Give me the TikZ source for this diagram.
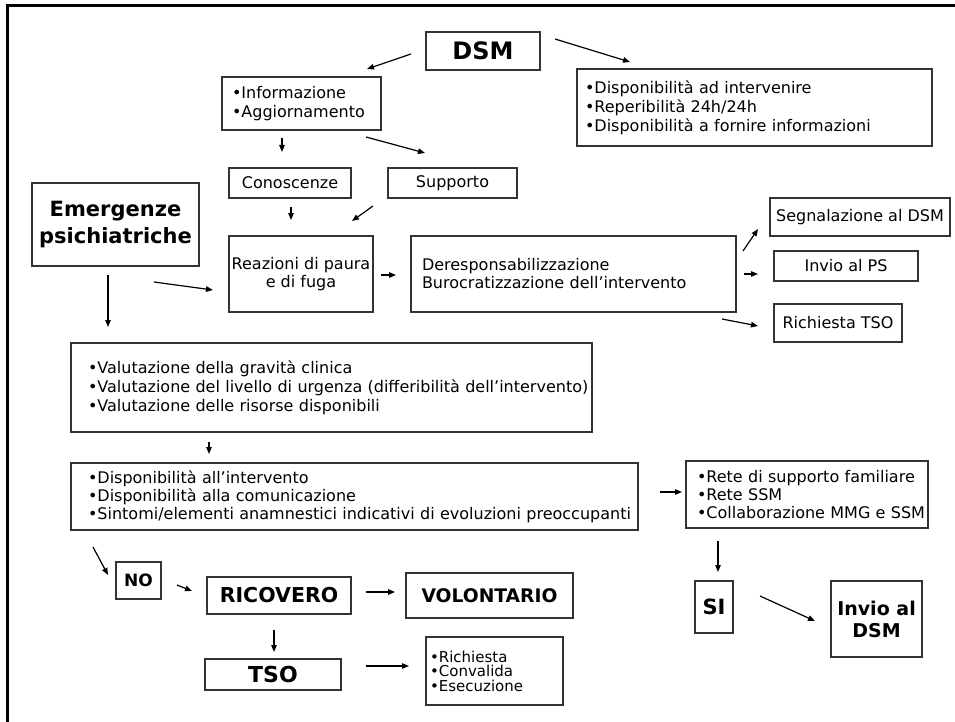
\documentclass[tikz,border=0pt]{standalone}
\usepackage{fontspec}
\setmainfont{DejaVu Sans}
\usetikzlibrary{arrows.meta}
\begin{document}
\begin{tikzpicture}[x=1pt,y=-1pt,
  box/.style={draw=black!80,line width=1.1pt,inner sep=0pt,align=center,font=\fontsize{16}{19}\selectfont},
  lbox/.style={box,align=left},
  arr/.style={line width=1.2pt,-{Triangle[length=7pt,width=5.5pt]}}]
\useasboundingbox (0,0) rectangle (955,722);
\fill[white] (0,0) rectangle (955,722);
\draw[line width=3pt] (7.5,722) -- (7.5,6) -- (955,6);

% nodes
\node[box,minimum width=114pt,minimum height=38pt,font=\bfseries\fontsize{24}{28}\selectfont] (dsm) at (483,51) {DSM};
\node[lbox,text width=139pt,inner xsep=10pt,minimum height=53pt] (info) at (301.5,103.5) {•Informazione\\•Aggiornamento};
\node[lbox,text width=339pt,inner xsep=8pt,minimum height=77pt] (disp) at (754.5,107.5) {•Disponibilità ad intervenire\\•Reperibilità 24h/24h\\•Disponibilità a fornire informazioni};
\node[box,minimum width=122pt,minimum height=30pt] (con) at (290,183) {Conoscenze};
\node[box,minimum width=129pt,minimum height=30pt] (sup) at (452.5,183) {Supporto};
\node[box,minimum width=167pt,minimum height=83pt,font=\bfseries\fontsize{21}{27}\selectfont] (emer) at (115.5,224.5) {Emergenze\\psichiatriche};
\node[box,minimum width=144pt,minimum height=76pt,font=\fontsize{16}{18}\selectfont] (reaz) at (301,274) {Reazioni di paura\\e di fuga};
\node[lbox,text width=303pt,inner xsep=11pt,minimum height=76pt,font=\fontsize{16}{18}\selectfont] (der) at (573.5,274) {Deresponsabilizzazione\\Burocratizzazione dell’intervento};
\node[box,minimum width=180pt,minimum height=38pt] (seg) at (860,217) {Segnalazione al DSM};
\node[box,minimum width=144pt,minimum height=30pt] (ps) at (846,266) {Invio al PS};
\node[box,minimum width=128pt,minimum height=38pt] (rtso) at (838,323) {Richiesta TSO};
\node[lbox,text width=487pt,inner xsep=17pt,minimum height=89pt] (val) at (331.5,387.5) {•Valutazione della gravità clinica\\\mbox{•Valutazione del livello di urgenza (differibilità dell’intervento)}\\•Valutazione delle risorse disponibili};
\node[lbox,text width=533pt,inner xsep=17pt,minimum height=67pt,font=\fontsize{16}{18}\selectfont] (dispon) at (354.5,496.5) {•Disponibilità all’intervento\\•Disponibilità alla comunicazione\\\mbox{•Sintomi/elementi anamnestici indicativi di evoluzioni preoccupanti}};
\node[lbox,text width=220pt,inner xsep=11pt,minimum height=67pt,font=\fontsize{16}{18}\selectfont] (rete) at (807,494.5) {\mbox{•Rete di supporto familiare}\\•Rete SSM\\\mbox{•Collaborazione MMG e SSM}};
\node[box,minimum width=45pt,minimum height=37pt,font=\bfseries\fontsize{17}{20}\selectfont] (no) at (138.5,580.5) {NO};
\node[box,minimum width=144pt,minimum height=37pt,font=\bfseries\fontsize{20.5}{24}\selectfont] (ric) at (279,595.5) {RICOVERO};
\node[box,minimum width=167pt,minimum height=45pt,font=\bfseries\fontsize{18.7}{22}\selectfont] (vol) at (489.5,595.5) {VOLONTARIO};
\node[box,minimum width=136pt,minimum height=31pt,font=\bfseries\fontsize{22}{24}\selectfont] (tso) at (273,674.5) {TSO};
\node[lbox,text width=129pt,inner xsep=4pt,minimum height=68pt,font=\fontsize{15}{14.5}\selectfont] (rich) at (494.5,671) {•Richiesta\\•Convalida\\•Esecuzione};
\node[box,minimum width=38pt,minimum height=52pt,font=\bfseries\fontsize{21}{24}\selectfont] (si) at (714,607) {SI};
\node[box,minimum width=91pt,minimum height=76pt,font=\bfseries\fontsize{19}{22}\selectfont] (idsm) at (876.5,619) {Invio al\\DSM};

% connector end points
\coordinate (dsm-o1) at (411,54);   \coordinate (info-i) at (367,69);
\coordinate (dsm-o2) at (555,39);   \coordinate (disp-i) at (630,62);
\coordinate (info-o1) at (282,138); \coordinate (con-i) at (282,152);
\coordinate (info-o2) at (366,137); \coordinate (sup-i) at (425,153);
\coordinate (con-o) at (291,207);   \coordinate (reaz-i1) at (291,220);
\coordinate (sup-o) at (373,206);   \coordinate (reaz-i2) at (352,221);
\coordinate (emer-o1) at (154,282); \coordinate (reaz-i3) at (213,290);
\coordinate (emer-o2) at (108,275); \coordinate (val-i) at (108,327);
\coordinate (reaz-o) at (381,275);  \coordinate (der-i) at (396,275);
\coordinate (der-o1) at (743,251);  \coordinate (seg-i) at (758,229);
\coordinate (der-o2) at (744,274);  \coordinate (ps-i) at (758,274);
\coordinate (der-o3) at (722,319);  \coordinate (rtso-i) at (758,326);
\coordinate (val-o) at (209,442);   \coordinate (dispon-i) at (209,454);
\coordinate (dispon-o1) at (660,492); \coordinate (rete-i) at (682,492);
\coordinate (dispon-o2) at (93,547);  \coordinate (no-i) at (108,575);
\coordinate (no-o) at (177,585);    \coordinate (ric-i) at (192,591);
\coordinate (ric-o1) at (366,592);  \coordinate (vol-i) at (395,592);
\coordinate (ric-o2) at (274,630);  \coordinate (tso-i) at (274,652);
\coordinate (tso-o) at (366,666);   \coordinate (rich-i) at (409,666);
\coordinate (rete-o) at (718,541);  \coordinate (si-i) at (718,572);
\coordinate (si-o) at (760,596);    \coordinate (idsm-i) at (815,621);

% connectors
\draw[arr] (dsm-o1) -- (info-i);
\draw[arr] (dsm-o2) -- (disp-i);
\draw[arr] (info-o1) -- (con-i);
\draw[arr] (info-o2) -- (sup-i);
\draw[arr] (con-o) -- (reaz-i1);
\draw[arr] (sup-o) -- (reaz-i2);
\draw[arr] (emer-o1) -- (reaz-i3);
\draw[arr] (emer-o2) -- (val-i);
\draw[arr] (reaz-o) -- (der-i);
\draw[arr] (der-o1) -- (seg-i);
\draw[arr] (der-o2) -- (ps-i);
\draw[arr] (der-o3) -- (rtso-i);
\draw[arr] (val-o) -- (dispon-i);
\draw[arr] (dispon-o1) -- (rete-i);
\draw[arr] (dispon-o2) -- (no-i);
\draw[arr] (no-o) -- (ric-i);
\draw[arr] (ric-o1) -- (vol-i);
\draw[arr] (ric-o2) -- (tso-i);
\draw[arr] (tso-o) -- (rich-i);
\draw[arr] (rete-o) -- (si-i);
\draw[arr] (si-o) -- (idsm-i);
\end{tikzpicture}
\end{document}
